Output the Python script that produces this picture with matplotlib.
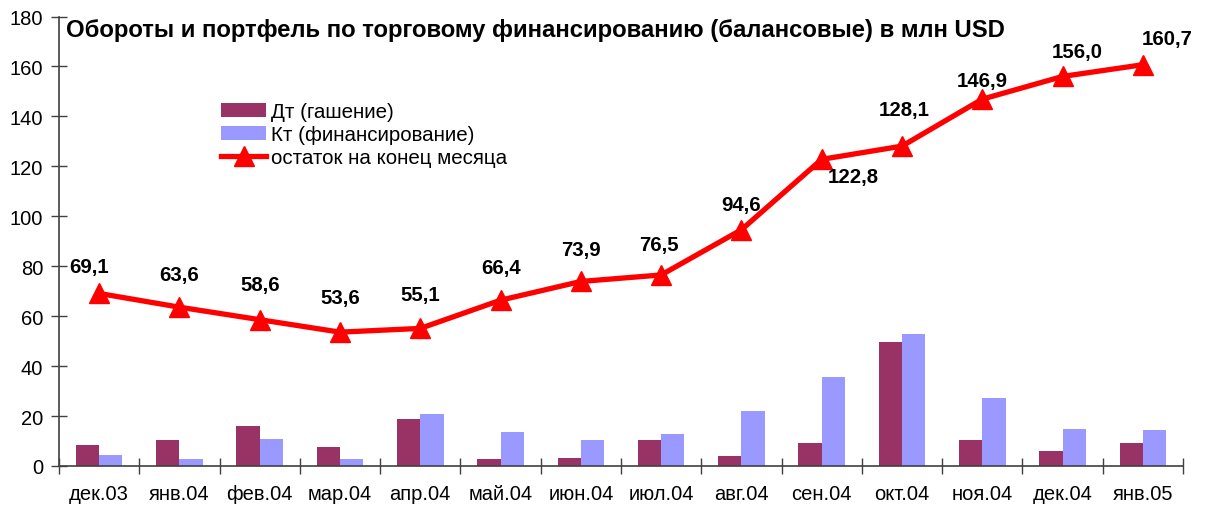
import matplotlib
matplotlib.use("Agg")
import matplotlib.pyplot as plt
import numpy as np

plt.rcParams['font.family'] = ['Liberation Sans', 'DejaVu Sans']

categories = ["дек.03", "янв.04", "фев.04", "мар.04", "апр.04", "май.04", "июн.04",
              "июл.04", "авг.04", "сен.04", "окт.04", "ноя.04", "дек.04", "янв.05"]
dt_values = [8.3, 10.3, 15.9, 7.5, 18.7, 2.7, 3.1, 10.3, 3.9, 9.1, 49.5, 10.3, 5.9, 9.1]
kt_values = [4.3, 2.7, 10.7, 2.7, 20.7, 13.5, 10.3, 12.7, 21.9, 35.5, 52.7, 27.1, 14.7, 14.3]
balance = [69.1, 63.6, 58.6, 53.6, 55.1, 66.4, 73.9, 76.5, 94.6, 122.8, 128.1, 146.9, 156.0, 160.7]
labels = ["69,1", "63,6", "58,6", "53,6", "55,1", "66,4", "73,9", "76,5", "94,6",
          "122,8", "128,1", "146,9", "156,0", "160,7"]
yticks = [0, 20, 40, 60, 80, 100, 120, 140, 160, 180]

# label offsets in pixels (dx, dy up)
label_offsets = [(-10, 27), (0, 33), (0, 35), (0, 35), (0, 34), (0, 33), (0, 32), (-2, 30),
                 (0, 25), (32, -17), (2, 37), (0, 19), (15, 25), (24, 26)]

fig = plt.figure(figsize=(12.05, 5.10), dpi=100)
ax = fig.add_axes([59/1205, 1 - 467/510, (1183-59)/1205, (467-17.5)/510])

x = np.arange(len(categories))
w = 0.29
b1 = ax.bar(x - w/2, dt_values, width=w, color="#993366", label="Дт (гашение)", zorder=2)
b2 = ax.bar(x + w/2, kt_values, width=w, color="#9999FF", label="Кт (финансирование)", zorder=2)
ln, = ax.plot(x, balance, color="#FF0000", lw=3.8, marker="^", markersize=14,
              markeredgecolor="#FF0000", label="остаток на конец месяца", zorder=3)

for xi, yi, lab, (dx, dy) in zip(x, balance, labels, label_offsets):
    ax.annotate(lab, (xi, yi), xytext=(dx * 0.72, dy * 0.72), textcoords="offset points",
                ha="center", va="center", fontsize=14.7, fontweight="bold", zorder=4)

ax.set_xlim(-0.5, len(categories) - 0.5)
ax.set_ylim(0, 180)
ax.set_yticks(yticks)
ax.set_yticklabels([str(v) for v in yticks], fontsize=14.5)
ax.set_xticks(x)
ax.set_xticklabels(categories, fontsize=14.5)
ax.set_xticks(np.arange(len(categories) + 1) - 0.5, minor=True)
ax.tick_params(axis="x", which="major", length=0, pad=13)
ax.tick_params(axis="x", which="minor", direction="inout", length=11, width=1, color="#404040")
ax.tick_params(axis="y", direction="inout", length=11, width=1, color="#404040", pad=6)

for s in ["top", "right"]:
    ax.spines[s].set_visible(False)
for s in ["left", "bottom"]:
    ax.spines[s].set_color("#404040")
    ax.spines[s].set_linewidth(1.2)

fig.text(66/1205, 1 - 31/510, "Обороты и портфель по торговому финансированию (балансовые) в млн USD",
         fontsize=17.2, fontweight="bold", ha="left", va="center")

leg = ax.legend([b1, b2, ln], [b1.get_label(), b2.get_label(), ln.get_label()],
                loc="upper left", bbox_to_anchor=((221-59)/1124, 1 - (103-17.5)/449.5),
                frameon=False, fontsize=14.8, handlelength=2.2, handletextpad=0.25,
                labelspacing=0.2, borderaxespad=0, borderpad=0)

fig.savefig("out.png", dpi=100)
